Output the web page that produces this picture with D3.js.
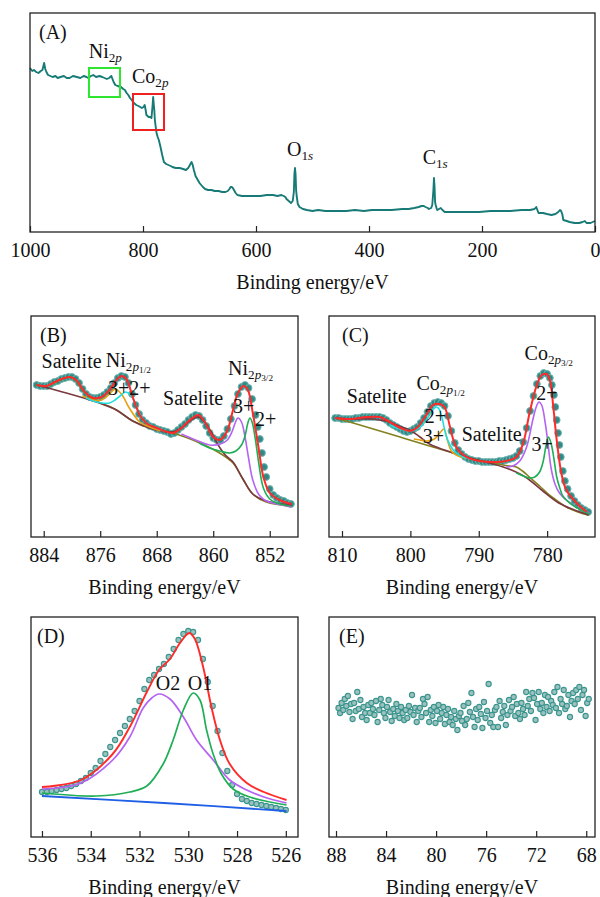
<!DOCTYPE html>
<html>
<head>
<meta charset="utf-8">
<script src="https://cdn.jsdelivr.net/npm/d3@7"></script>
<style>
  body { margin: 0; background: #fff; }
  text { font-family: "Liberation Serif", "Times New Roman", serif; fill: #111; }
</style>
</head>
<body>
<svg id="fig" width="600" height="897"></svg>
<script>
// ---- (A) survey spectrum [BE, intensity a.u.]
const survey = [
  [1000,164],[996,161],[993,162],[989,160],[985,159],[981,161],[978,162],[975,169],[973,163],[971,160],[968,157],
  [964,156],[960,155],[955,156],[951,154],[946,155],[940,156],[935,154],[930,154],[924,156],[917,155],[911,154],
  [905,156],[900,155],[897,154],[892,156],[888,157],[883,155],[877,156],[872,155],[868,154],[864,153],[860,154],
  [856,156],[854,153],[852,150],[849,147],[845,146],[839,145],[835,143],[832,142],[829,139],[826,137],[823,134],
  [820,132],[816,129],[812,127],[808,126],[805,125],[802,124],[799,125],[797,127],[795,121],[794,117],[792,116],
  [790,115],[787,115],[785,114],[783,127],[782,135],[781,128],[780,122],[779,112],[777,103],[776,99],[774,95],
  [772,92],[769,85],[766,77],[763,70],[759,68],[755,67],[751,66],[748,65],[742,64],[735,64],[729,63],[724,62],
  [720,64],[718,66],[714,70],[712,67],[710,62],[707,56],[703,52],[700,49],[697,47],[694,45],[690,43],[685,42],
  [679,42],[673,41],[666,41],[660,40],[654,40],[650,41],[647,43],[645,45],[643,45],[641,44],[638,41],[636,39],
  [633,37],[625,36],[615,36],[604,36],[592,36],[581,37],[570,37],[562,36],[555,37],[551,36],[548,35],[546,33],
  [544,32],[540,30],[538,29],[535,31],[533,40],[532,58],[531,64],[530,58],[529,42],[528,36],[526,28],[523,25],
  [520,24],[517,23],[510,22],[500,21],[490,22],[477,21],[460,21],[440,21],[425,22],[409,21],[395,22],[380,22],
  [360,22],[341,23],[330,23],[320,24],[312,25],[307,26],[303,26],[300,25],[296,24],[294,23],[290,24],[288,27],
  [286,42],[285,54],[284,45],[283,30],[282,27],[280,23],[279,22],[276,23],[273,24],[270,22],[266,20],[255,20],
  [240,20],[222,20],[205,20],[185,21],[170,21],[150,21],[130,22],[115,22],[107,23],[104,25],[102,22],[100,19],
  [92,19],[85,18],[77,17],[70,18],[65,20],[62,22],[60,21],[58,18],[56,12],[50,11],[45,10],[36,9],[28,9],
  [22,10],[18,11],[15,9],[8,9],[0,11]
];
const surveyTicks = [1000, 800, 600, 400, 200, 0];
const niBox = [[895.6, 135], [840.7, 164]];
const coBox = [[817.7, 102], [762.8, 138]];

// ---- (B) Ni 2p
const niData = [
  [885.0,152],[884.5,151],[884.0,151],[883.5,151],[883.0,153],[882.5,155],[882.0,156],[881.5,158],[881.0,159],
  [880.5,160],[880.0,160],[879.5,158],[879.0,154],[878.5,148],[878.0,143],[877.5,140],[877.0,139],[876.5,139],
  [876.0,140],[875.5,142],[875.0,145],[874.5,149],[874.0,154],[873.5,159],[873.0,161],[872.5,160],[872.0,154],
  [871.5,143],[871.0,132],[870.5,123],[870.0,117],[869.5,114],[869.0,111],[868.5,110],[868.0,108],[867.5,107],
  [867.0,106],[866.5,105],[866.0,103],[865.5,104],[865.0,107],[864.5,110],[864.0,113],[863.5,117],[863.0,120],
  [862.5,122],[862.0,121],[861.5,117],[861.0,111],[860.5,104],[860.0,99],[859.5,97],[859.0,97],[858.5,101],
  [858.0,108],[857.5,118],[857.0,131],[856.5,143],[856.0,150],[855.5,152],[855.0,149],[854.5,138],[854.0,122],
  [853.7,110],[853.4,98],[853.1,84],[852.8,70],[852.5,60],[852.0,48],[851.5,42],[851.0,39],[850.5,37],
  [850.0,36],[849.5,34],[849.0,33]
];
const niEnv = [
  [885.0,152],[883.6,151],[882.7,154],[881.5,158],[880.3,160],[879.4,157],[878.2,145],[877.0,139],[875.8,140],
  [874.7,147],[873.7,157],[873.0,161],[872.3,158],[871.4,140],[870.4,122],[869.5,114],[868.0,109],[865.7,104],
  [864.5,109],[863.3,117],[862.1,122],[861.2,115],[860.0,100],[859.1,97],[858.1,105],[857.2,127],[856.5,144],
  [855.7,151],[855.1,147],[854.4,124],[853.6,90],[852.9,60],[852.0,44],[850.6,37],[848.9,33]
];
const niSat1 = [
  [885.0,152],[883.5,151],[882.5,154],[881.3,158],[880.3,160],[879.4,156],[878.4,146],[877.3,139],[876.3,135],
  [874.5,130],[873.7,127],[871.4,116],[869.0,109],[865.7,104],[861.9,94],[859.1,84],[857.2,74],[855.8,58],
  [854.4,43],[852.5,35],[848.9,31]
];
const niSat2 = [
  [885.0,152],[880.8,144],[876.1,134],[873.7,127],[871.4,116],[869.0,109],[866.5,105],[865.3,106],[864.0,112],
  [862.9,118],[862.1,120],[861.2,115],[860.2,104],[859.3,92],[858.3,82],[857.2,75],[855.8,58],[854.4,43],
  [852.5,36],[848.9,32]
];
const ni3p12 = [[878.5,141],[877.0,137],[875.8,137],[874.7,143],[873.9,148],[873.0,143],[871.8,128],[870.4,115],[869.0,110],[867.5,106]];
const ni2p12 = [[878.0,139],[877.0,136],[875.8,134],[874.7,134],[873.9,137],[873.2,141],[872.4,145],[871.7,142],[870.7,128],[869.8,116],[868.4,110],[867.0,106]];
const ni3p32 = [[864.5,103],[862.5,97],[860.5,92],[859.0,93],[858.0,97],[857.3,106],[856.9,114],[856.5,119],[856.0,115],[855.5,100],[855.0,79],[854.4,57],[853.5,42],[852.5,36],[851.0,33],[849.0,30]];
const ni2p32 = [[862.0,94],[860.5,89],[859.1,86],[857.7,84],[856.8,86],[856.0,92],[855.5,101],[855.1,114],[854.8,119],[854.5,115],[854.0,96],[853.6,76],[852.9,49],[852.0,38],[851.0,34],[849.2,31]];
const niTicks = [884, 876, 868, 860, 852];

// ---- (C) Co 2p
const coData = [
  [811.0,119],[810.5,119],[810.0,118],[809.5,118],[809.0,118],[808.5,118],[808.0,119],[807.5,119],[807.0,120],
  [806.5,120],[806.0,120],[805.5,120],[805.0,120],[804.5,120],[804.0,119],[803.5,117],[803.0,114],[802.5,112],
  [802.0,110],[801.5,108],[801.0,106],[800.5,105],[800.0,106],[799.5,108],[799.0,110],[798.5,114],[798.0,119],
  [797.5,125],[797.0,131],[796.5,134],[796.0,135],[795.5,134],[795.0,131],[794.5,121],[794.0,106],[793.5,94],
  [793.0,87],[792.5,83],[792.0,80],[791.5,78],[791.0,77],[790.5,76],[790.0,76],[789.5,75],[789.0,75],[788.5,75],
  [788.0,75],[787.5,75],[787.0,76],[786.5,76],[786.0,77],[785.5,78],[785.0,79],[784.5,81],[784.0,86],[783.5,95],
  [783.0,109],[782.5,126],[782.0,141],[781.5,153],[781.0,161],[780.5,164],[780.0,163],[779.6,159],[779.3,152],
  [779.0,142],[778.8,130],[778.6,117],[778.4,104],[778.2,92],[778.0,80],[777.7,66],[777.4,56],[777.0,48],
  [776.5,41],[776.0,36],[775.5,32],[775.0,29],[774.5,27],[774.0,25]
];
const coEnv = [
  [811.0,119],[808.8,118],[806.4,120],[804.5,120],[803.5,117],[801.5,109],[800.1,106],[798.9,110],[797.6,123],
  [796.7,132],[795.7,133],[795.0,130],[794.2,110],[793.3,90],[791.8,80],[789.9,76],[787.9,75],[786.0,76],
  [784.5,80],[783.5,94],[782.6,123],[781.6,150],[780.8,162],[780.1,163],[779.6,157],[779.1,130],[778.6,97],
  [777.9,63],[777.2,47],[775.7,34],[774.2,25]
];
const coSat1 = [
  [811.0,119],[806.4,110],[801.5,100],[797.2,91],[794.2,85],[791.3,79],[789.0,75],[787.9,74],[786.5,72],
  [785.5,71],[784.5,70],[783.6,66],[782.6,60],[781.1,51],[780.0,44],[779.1,39],[777.2,30],[775.5,25],[774.0,22]
];
const coSat2 = [
  [811.0,119],[808.0,118],[805.5,118],[804.5,117],[803.0,115],[802.0,112],[800.1,107],[798.6,100],[797.2,93],
  [794.2,85],[791.3,79],[789.0,75],[786.0,69],[783.2,60],[780.8,47],[778.3,34],[776.0,27],[773.9,22]
];
const co2p12 = [[803.0,112],[801.5,108],[800.0,106],[799.0,108],[798.0,114],[797.2,122],[796.6,128],[796.2,130],[795.8,128],[795.4,120],[794.8,102],[794.2,92],[793.5,85],[792.3,80],[791.0,78]];
const co3p12 = [[799.5,98],[798.6,97],[797.5,96],[796.5,98],[795.8,103],[795.1,108],[794.6,97],[794.0,86],[793.3,82],[792.0,79]];
const co2p32 = [[786.0,70],[785.0,71],[784.0,76],[783.0,90],[782.1,117],[781.6,130],[781.2,135],[780.8,132],[780.3,115],[779.9,95],[779.4,68],[778.8,52],[778.2,44],[777.0,36],[775.7,30],[773.8,24]];
const co3p32 = [[784.5,64],[783.5,61],[782.6,59],[781.8,60],[781.1,65],[780.6,75],[780.2,90],[779.8,100],[779.4,93],[779.0,78],[778.6,60],[778.1,48],[777.7,41],[776.5,33],[775.0,27],[773.8,23]];
const coTicks = [810, 800, 790, 780];

// ---- (D) O 1s
const oData = [
  [536.0,45],[535.8,45],[535.6,46],[535.4,47],[535.2,48],[535.0,49],[534.8,51],[534.6,53],[534.4,56],[534.2,59],
  [534.0,64],[533.8,69],[533.6,76],[533.4,83],[533.2,90],[533.0,97],[532.8,104],[532.6,111],[532.4,118],
  [532.2,126],[532.0,136],[531.8,148],[531.6,157],[531.4,162],[531.2,168],[531.0,173],[530.8,180],[530.6,188],
  [530.4,197],[530.2,203],[530.0,206],[529.8,205],[529.6,197],[529.4,178],[529.2,155],[529.0,131],[528.8,106],
  [528.6,84],[528.4,66],[528.2,52],[528.0,43],[527.8,38],[527.6,36],[527.4,34],[527.2,33],[527.0,32],[526.8,31],
  [526.6,30],[526.4,29],[526.2,28],[526.0,27]
];
const oEnv = [[536.0,50],[534.4,57],[533.1,83],[532.4,110],[531.7,145],[531.2,167],[530.75,178],[530.34,194],[529.96,204],[529.73,198],[529.39,170],[529.05,130],[528.7,97],[528.3,73],[527.6,54],[526.9,45],[525.97,37]];
const oO2 = [[536.0,48],[534.4,54],[533.1,77],[532.4,100],[531.85,129],[531.5,139],[531.2,143],[530.75,138],[530.2,120],[529.66,97],[528.98,77],[528.3,57],[527.6,47],[526.9,40],[525.97,34]];
const oO1 = [[536.0,44],[533.76,41],[532.4,45],[531.7,51],[531.03,73],[530.62,97],[530.2,127],[529.8,144],[529.52,137],[529.25,107],[528.98,83],[528.64,63],[528.16,48],[527.48,40],[525.97,32]];
const oBg = [[536.0,41],[531.0,34],[525.97,26]];
const oTicks = [536, 534, 532, 530, 528, 526];

// ---- (E) 68-88 eV region, scatter
const eBE = d3.range(87.8, 67.7, -0.125);
const eI = [
  129,124,134,127,138,131,141,125,133,118,
  134,126,145,128,137,120,130,124,117,132,
  124,134,128,122,136,115,127,138,132,124,
  119,130,137,125,116,128,121,133,126,119,
  130,124,117,127,119,131,125,142,122,129,
  115,126,129,120,138,133,124,140,115,127,
  121,130,114,126,132,118,124,130,113,122,
  128,115,120,112,126,118,107,121,124,116,
  131,112,118,134,125,144,120,110,128,117,
  130,123,109,135,119,126,153,114,122,110,
  127,130,110,136,119,125,131,112,122,137,
  126,130,140,121,133,124,118,134,128,122,
  145,131,138,126,144,139,117,133,145,128,
  134,124,142,130,140,126,136,132,145,129,
  150,124,138,133,147,128,131,142,120,136,
  144,133,147,138,150,127,142,147,121,134,
  138
];
const eTicks = [88, 84, 80, 76, 72, 68];

const C = {
  teal: "#177a76",
  red: "#ff2a2a", cyan: "#22dede", orange: "#e8a012", purple: "#b463f2",
  green: "#1fae55", olive: "#84801e", maroon: "#7a3a40", blue: "#1f5fe6"
};
// dense band style (B, C) and open-looking dots (D, E)
const bandDot = { r: 3.4, fill: "#2f8a86", stroke: "#6fb5b0", sw: 1 };
const openDot = { r: 2.6, fill: "#9cc2be", stroke: "#3a958f", sw: 1.1 };

const svg = d3.select("#fig");

function panel(box, domain, ticks, name) {
  const g = svg.append("g");
  const x = d3.scaleLinear().domain(domain).range([box.x0, box.x1]);
  const y = d3.scaleLinear().domain([0, box.y1 - box.y0]).range([box.y1, box.y0]);
  const ax = g.append("g")
    .attr("transform", "translate(0," + box.y1 + ")")
    .call(d3.axisBottom(x).tickValues(ticks).tickSizeInner(-6).tickSizeOuter(0).tickPadding(11).tickFormat(d3.format("d")));
  ax.select(".domain").remove();
  ax.attr("font-family", null).attr("font-size", null);
  ax.selectAll("line").attr("stroke", "#222").attr("stroke-width", 1.2);
  ax.selectAll("text").attr("font-size", 20);
  g.append("text")
    .attr("x", (box.x0 + box.x1) / 2)
    .attr("y", box.y1 + 57)
    .attr("text-anchor", "middle")
    .attr("font-size", 20)
    .text("Binding energy/eV");
  const plot = g.append("g");
  g.append("rect")
    .attr("x", box.x0).attr("y", box.y0)
    .attr("width", box.x1 - box.x0).attr("height", box.y1 - box.y0)
    .attr("fill", "none").attr("stroke", "#222").attr("stroke-width", 1.3);
  g.append("text")
    .attr("x", box.x0 + box.lx).attr("y", box.y0 + 26)
    .attr("font-size", 20)
    .text(name);
  return { g: g, plot: plot, x: x, y: y };
}

function curve(p, data, color, width, smooth) {
  const line = d3.line()
    .x(d => p.x(d[0]))
    .y(d => p.y(d[1]))
    .curve(smooth === false ? d3.curveLinear : d3.curveCatmullRom.alpha(0.5));
  p.plot.append("path")
    .datum(data)
    .attr("d", line)
    .attr("fill", "none")
    .attr("stroke", color)
    .attr("stroke-width", width)
    .attr("stroke-linejoin", "round");
}

function dots(p, data, st) {
  p.plot.append("g").selectAll("circle")
    .data(data).enter().append("circle")
    .attr("cx", d => p.x(d[0]))
    .attr("cy", d => p.y(d[1]))
    .attr("r", st.r)
    .attr("fill", st.fill)
    .attr("stroke", st.stroke)
    .attr("stroke-width", st.sw);
}

// text with chemical subscripts: base, sub (e.g. "2p"), optional second-level sub (e.g. "1/2")
function label(p, at, base, sub, sub2, size) {
  size = size || 20;
  const t = p.g.append("text")
    .attr("x", p.x(at[0])).attr("y", p.y(at[1]))
    .attr("font-size", size);
  t.append("tspan").text(base);
  if (sub) {
    t.append("tspan").attr("font-size", size * 0.66).attr("dy", size * 0.2).text(sub.slice(0, -1));
    t.append("tspan").attr("font-size", size * 0.66).attr("font-style", "italic").text(sub.slice(-1));
  }
  if (sub2) {
    t.append("tspan").attr("font-size", size * 0.46).attr("dy", size * 0.1).text(sub2);
  }
}

// ---------- (A)
const pA = panel({ x0: 30, x1: 595, y0: 13, y1: 232, lx: 9 }, [1000, 0], surveyTicks, "(A)");
curve(pA, survey, C.teal, 1.9, false);
[[niBox, "#2ee62e"], [coBox, "#ee2020"]].forEach(function (b) {
  const bx = b[0];
  pA.plot.append("rect")
    .attr("x", pA.x(bx[0][0])).attr("y", pA.y(bx[1][1]))
    .attr("width", pA.x(bx[1][0]) - pA.x(bx[0][0]))
    .attr("height", pA.y(bx[0][1]) - pA.y(bx[1][1]))
    .attr("fill", "none").attr("stroke", b[1]).attr("stroke-width", 2);
});
label(pA, [896, 174], "Ni", "2p");
label(pA, [819.5, 149], "Co", "2p");
label(pA, [545, 76], "O", "1s");
label(pA, [305, 68], "C", "1s");

// ---------- (B)
const pB = panel({ x0: 31, x1: 298, y0: 316, y1: 537, lx: 9 }, [885.8, 848.0], niTicks, "(B)");
dots(pB, niData, bandDot);
curve(pB, niSat1, C.olive, 1.6);
curve(pB, niSat2, C.maroon, 1.6);
curve(pB, ni3p12, C.orange, 1.6);
curve(pB, ni2p12, C.cyan, 1.6);
curve(pB, ni3p32, C.purple, 1.6);
curve(pB, ni2p32, C.green, 1.6);
curve(pB, niEnv, C.red, 2);
label(pB, [884.3, 169], "Satelite");
label(pB, [875.2, 170], "Ni", "2p", "1/2");
label(pB, [874.9, 142], "3+");
label(pB, [871.9, 142], "2+");
label(pB, [867.1, 132], "Satelite");
label(pB, [857.9, 162], "Ni", "2p", "3/2");
label(pB, [857.2, 124], "3+");
label(pB, [854.1, 111], "2+");

// ---------- (C)
const pC = panel({ x0: 329, x1: 595, y0: 316, y1: 537, lx: 13 }, [811.9, 773.0], coTicks, "(C)");
dots(pC, coData, bandDot);
curve(pC, coSat1, C.olive, 1.6);
curve(pC, coSat2, C.maroon, 1.6);
curve(pC, co3p12, C.orange, 1.6);
curve(pC, co2p12, C.cyan, 1.6);
curve(pC, co2p32, C.purple, 1.6);
curve(pC, co3p32, C.green, 1.6);
curve(pC, coEnv, C.red, 2);
label(pC, [809.3, 134], "Satelite");
label(pC, [799.1, 147], "Co", "2p", "1/2");
label(pC, [797.9, 114], "2+");
label(pC, [798.2, 94], "3+");
label(pC, [792.5, 96], "Satelite");
label(pC, [783.3, 177], "Co", "2p", "3/2");
label(pC, [781.6, 137], "2+");
label(pC, [782.3, 86], "3+");

// ---------- (D)
const pD = panel({ x0: 31, x1: 298, y0: 617, y1: 837, lx: 6 }, [536.45, 525.5], oTicks, "(D)");
dots(pD, oData, openDot);
curve(pD, oBg, C.blue, 1.8);
curve(pD, oO2, C.purple, 1.7);
curve(pD, oO1, C.green, 1.7);
curve(pD, oEnv, C.red, 1.9);
label(pD, [531.33, 147], "O2");
label(pD, [530.02, 147], "O1");

// ---------- (E)
const pE = panel({ x0: 329, x1: 595, y0: 617, y1: 837, lx: 10 }, [88.56, 67.3], eTicks, "(E)");
dots(pE, d3.zip(eBE, eI), openDot);
</script>
</body>
</html>
